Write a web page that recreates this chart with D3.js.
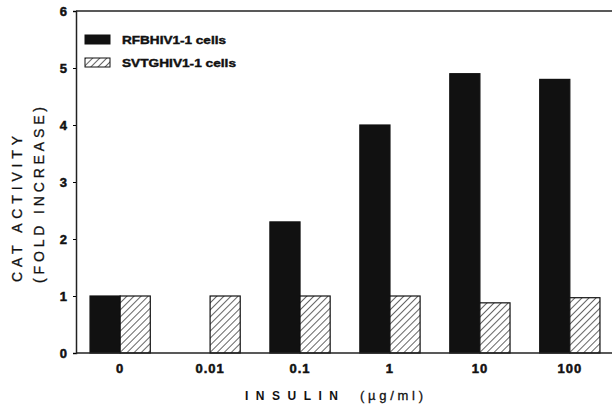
<!DOCTYPE html>
<html>
<head>
<meta charset="utf-8"/>
<script src="https://d3js.org/d3.v7.min.js"></script>
<style>
    body { margin: 0; background: #fff; }
    text { font-family: "Liberation Sans", Arial, sans-serif; fill: #111; }
</style>
</head>
<body>
<svg id="chart" width="612" height="407"></svg>
<script>
    // datos
    const dosis = ["0", "0.01", "0.1", "1", "10", "100"];
    const rfb = [1, null, 2.3, 4.0, 4.9, 4.8];
    const svtg = [1, 1, 1, 1, 0.88, 0.97];
    const series = ["RFBHIV1-1 cells", "SVTGHIV1-1 cells"];
    const yTicks = [0, 1, 2, 3, 4, 5, 6];

    const svg = d3.select("#chart");
    const mIzq = 76, mDer = 614, mSup = 11, mInf = 353;

    // patron rayado
    const pat = svg.append("defs").append("pattern")
        .attr("id", "hatch")
        .attr("patternUnits", "userSpaceOnUse")
        .attr("width", 5).attr("height", 5)
        .attr("patternTransform", "rotate(45)");
    pat.append("rect").attr("width", 5).attr("height", 5).attr("fill", "#fff");
    pat.append("line").attr("x1", 0).attr("y1", 0).attr("x2", 0).attr("y2", 5)
        .attr("stroke", "#111").attr("stroke-width", 1.3);

    const x0 = d3.scaleBand().domain(dosis).range([mIzq, mDer])
        .paddingInner(0.33).paddingOuter(0.156);
    const x1 = d3.scaleBand().domain(series).range([0, x0.bandwidth()]);
    const y = d3.scaleLinear().domain([0, 6]).range([mInf, mSup]);

    const fills = ["#111", "url(#hatch)"];
    const datos = dosis.map((d, i) => ({dosis: d, vals: [rfb[i], svtg[i]]}));

    const g = svg.selectAll("g.grupo").data(datos).enter().append("g")
        .attr("class", "grupo")
        .attr("transform", d => `translate(${x0(d.dosis)},0)`);

    g.selectAll("rect")
        .data(d => d.vals.map((v, j) => ({serie: series[j], v: v, j: j})).filter(e => e.v !== null))
        .enter().append("rect")
        .attr("x", e => x1(e.serie))
        .attr("y", e => y(e.v))
        .attr("width", x1.bandwidth())
        .attr("height", e => y(0) - y(e.v))
        .attr("fill", e => fills[e.j])
        .attr("stroke", "#111")
        .attr("stroke-width", 1.2);

    // ejes
    const yAxis = d3.axisLeft(y).tickValues(yTicks).tickSize(3).tickPadding(6).tickFormat(d3.format("d"));
    const ya = svg.append("g").attr("transform", `translate(${mIzq},0)`).call(yAxis);
    ya.select(".domain").attr("stroke", "#222").attr("stroke-width", 1.5);
    ya.selectAll("text").style("font-size", "13px").style("font-weight", "bold")
        .style("stroke", "#111").style("stroke-width", "0.5px");

    const xAxis = d3.axisBottom(x0).tickSize(0).tickPadding(11);
    const xa = svg.append("g").attr("transform", `translate(0,${mInf})`).call(xAxis);
    xa.select(".domain").remove();
    xa.selectAll("text").style("font-size", "13px").style("font-weight", "bold")
        .style("letter-spacing", "1px")
        .style("stroke", "#111").style("stroke-width", "0.5px");

    svg.append("line").attr("x1", mIzq).attr("x2", 612).attr("y1", mInf).attr("y2", mInf)
        .attr("stroke", "#222").attr("stroke-width", 1.5);
    svg.append("line").attr("x1", mIzq).attr("x2", 612).attr("y1", mSup).attr("y2", mSup)
        .attr("stroke", "#222").attr("stroke-width", 1.5);

    // titulos de ejes
    svg.append("text")
        .attr("x", 245).attr("y", 400)
        .attr("textLength", 93).attr("lengthAdjust", "spacing")
        .style("font-size", "12px").style("font-weight", "bold")
        .text("INSULIN");
    svg.append("text")
        .attr("x", 360).attr("y", 400)
        .attr("textLength", 63).attr("lengthAdjust", "spacing")
        .style("font-size", "13px")
        .style("stroke", "#111").style("stroke-width", "0.3px")
        .text("(µg/ml)");

    svg.append("text")
        .attr("transform", "translate(22,136) rotate(-90)")
        .attr("x", -146)
        .attr("textLength", 146).attr("lengthAdjust", "spacing")
        .style("font-size", "14px")
        .style("stroke", "#111").style("stroke-width", "0.3px")
        .text("CAT ACTIVITY");
    svg.append("text")
        .attr("transform", "translate(44,107) rotate(-90)")
        .attr("x", -176)
        .attr("textLength", 176).attr("lengthAdjust", "spacing")
        .style("font-size", "14px")
        .style("stroke", "#111").style("stroke-width", "0.3px")
        .text("(FOLD INCREASE)");

    // leyenda
    const anchos = [104, 114];
    const leg = svg.selectAll("g.leg").data(series).enter().append("g")
        .attr("class", "leg")
        .attr("transform", (d, i) => `translate(85,${35 + i * 23})`);
    leg.append("rect").attr("width", 25).attr("height", 9)
        .attr("fill", (d, i) => fills[i]).attr("stroke", "#111").attr("stroke-width", 1);
    leg.append("text").attr("x", 37).attr("y", 9)
        .attr("textLength", (d, i) => anchos[i]).attr("lengthAdjust", "spacingAndGlyphs")
        .style("font-size", "11px").style("font-weight", "bold")
        .style("stroke", "#111").style("stroke-width", "0.4px")
        .text(d => d);
</script>
</body>
</html>
